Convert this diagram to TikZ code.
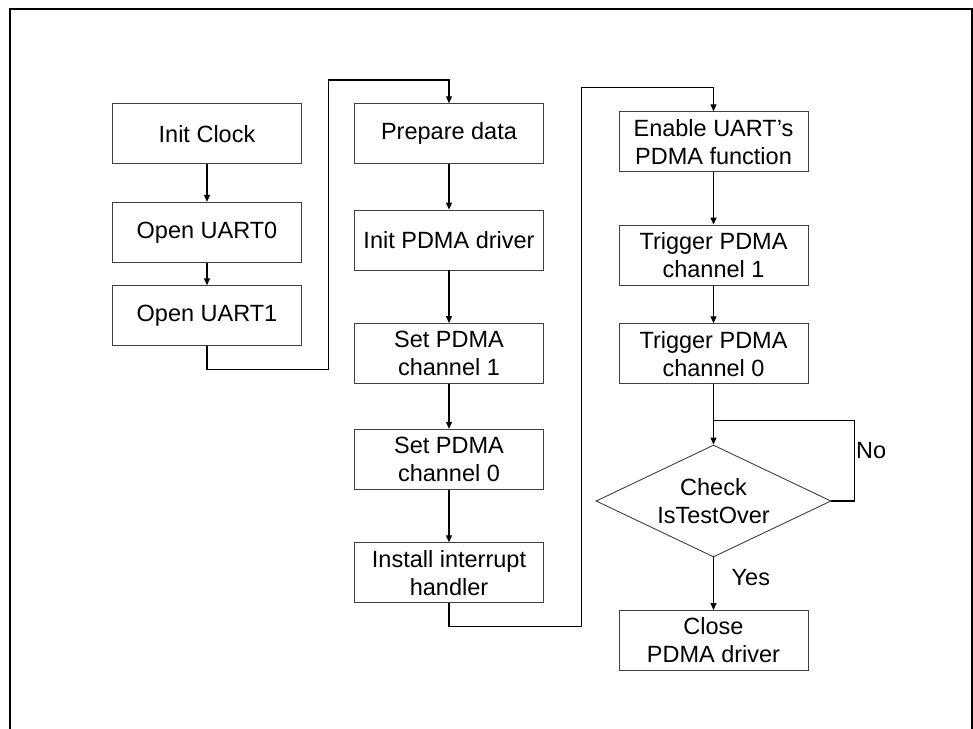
\documentclass[tikz,border=0pt]{standalone}
\usepackage{fontspec}
\setmainfont{Liberation Sans}
\usetikzlibrary{arrows.meta,shapes.geometric}
\begin{document}
\begin{tikzpicture}[x=1pt,y=-1pt,
    every node/.style={font=\fontsize{23.5}{28}\selectfont},
    stepbox/.style={draw=black!75,line width=0.9pt,minimum width=189pt,minimum height=60pt,inner sep=2pt,align=center},
    checkbox/.style={diamond,draw=black!75,line width=0.9pt,aspect=2.1,minimum width=235pt,minimum height=112pt,inner sep=0pt,align=center},
    flow/.style={line width=1.2pt},
    >={Triangle[length=7pt,width=6pt]}]
  \useasboundingbox (0,0) rectangle (973,728);
  \draw[line width=2.6pt] (10,9) rectangle (972,745);
  % first column
  \node[stepbox] (clock) at (207,133.7) {Init Clock};
  \node[stepbox] (uart0) at (207,232.3) {Open UART0};
  \node[stepbox] (uart1) at (207,315.7) {Open UART1};
  % second column
  \node[stepbox] (prep) at (449,133.7) {Prepare data};
  \node[stepbox] (pdmainit) at (449,240) {Init PDMA driver};
  \node[stepbox] (setch1) at (449,353.5) {Set PDMA\\channel 1};
  \node[stepbox] (setch0) at (449,459.3) {Set PDMA\\channel 0};
  \node[stepbox] (irq) at (449,572.7) {Install interrupt\\handler};
  % third column
  \node[stepbox] (enable) at (713.5,141.7) {Enable UART’s\\PDMA function};
  \node[stepbox] (trig1) at (713.5,255) {Trigger PDMA\\channel 1};
  \node[stepbox] (trig0) at (713.5,353.7) {Trigger PDMA\\channel 0};
  \node[checkbox] (check) at (713.5,501) {Check\\IsTestOver};
  \node[stepbox] (close) at (713.5,640.5) {Close\\PDMA driver};
  \node[anchor=west,inner sep=0pt] (no) at (856,450.5) {No};
  \node[anchor=west,inner sep=0pt] (yes) at (731.5,577.3) {Yes};
  % turning points of the long wires
  \coordinate (hopA) at (328.3,369.3);
  \coordinate (hopB) at (328.3,80);
  \coordinate (hopC) at (581.7,626.7);
  \coordinate (hopD) at (581.7,87.5);
  \coordinate (merge) at (713.5,420.7);
  \coordinate (noturn) at (854.7,420.7);
  \draw[flow,->] (clock) -- (uart0);
  \draw[flow,->] (uart0) -- (uart1);
  \draw[flow,->] (uart1.south) |- (hopA) -- (hopB) -| (prep.north);
  \draw[flow,->] (prep) -- (pdmainit);
  \draw[flow,->] (pdmainit) -- (setch1);
  \draw[flow,->] (setch1) -- (setch0);
  \draw[flow,->] (setch0) -- (irq);
  \draw[flow,->] (irq.south) |- (hopC) -- (hopD) -| (enable.north);
  \draw[flow,->] (enable) -- (trig1);
  \draw[flow,->] (trig1) -- (trig0);
  \draw[flow,->] (trig0) -- (check);
  \draw[flow] (check.east) -| (noturn) -- (merge);
  \draw[flow,->] (check) -- (close);
\end{tikzpicture}
\end{document}
